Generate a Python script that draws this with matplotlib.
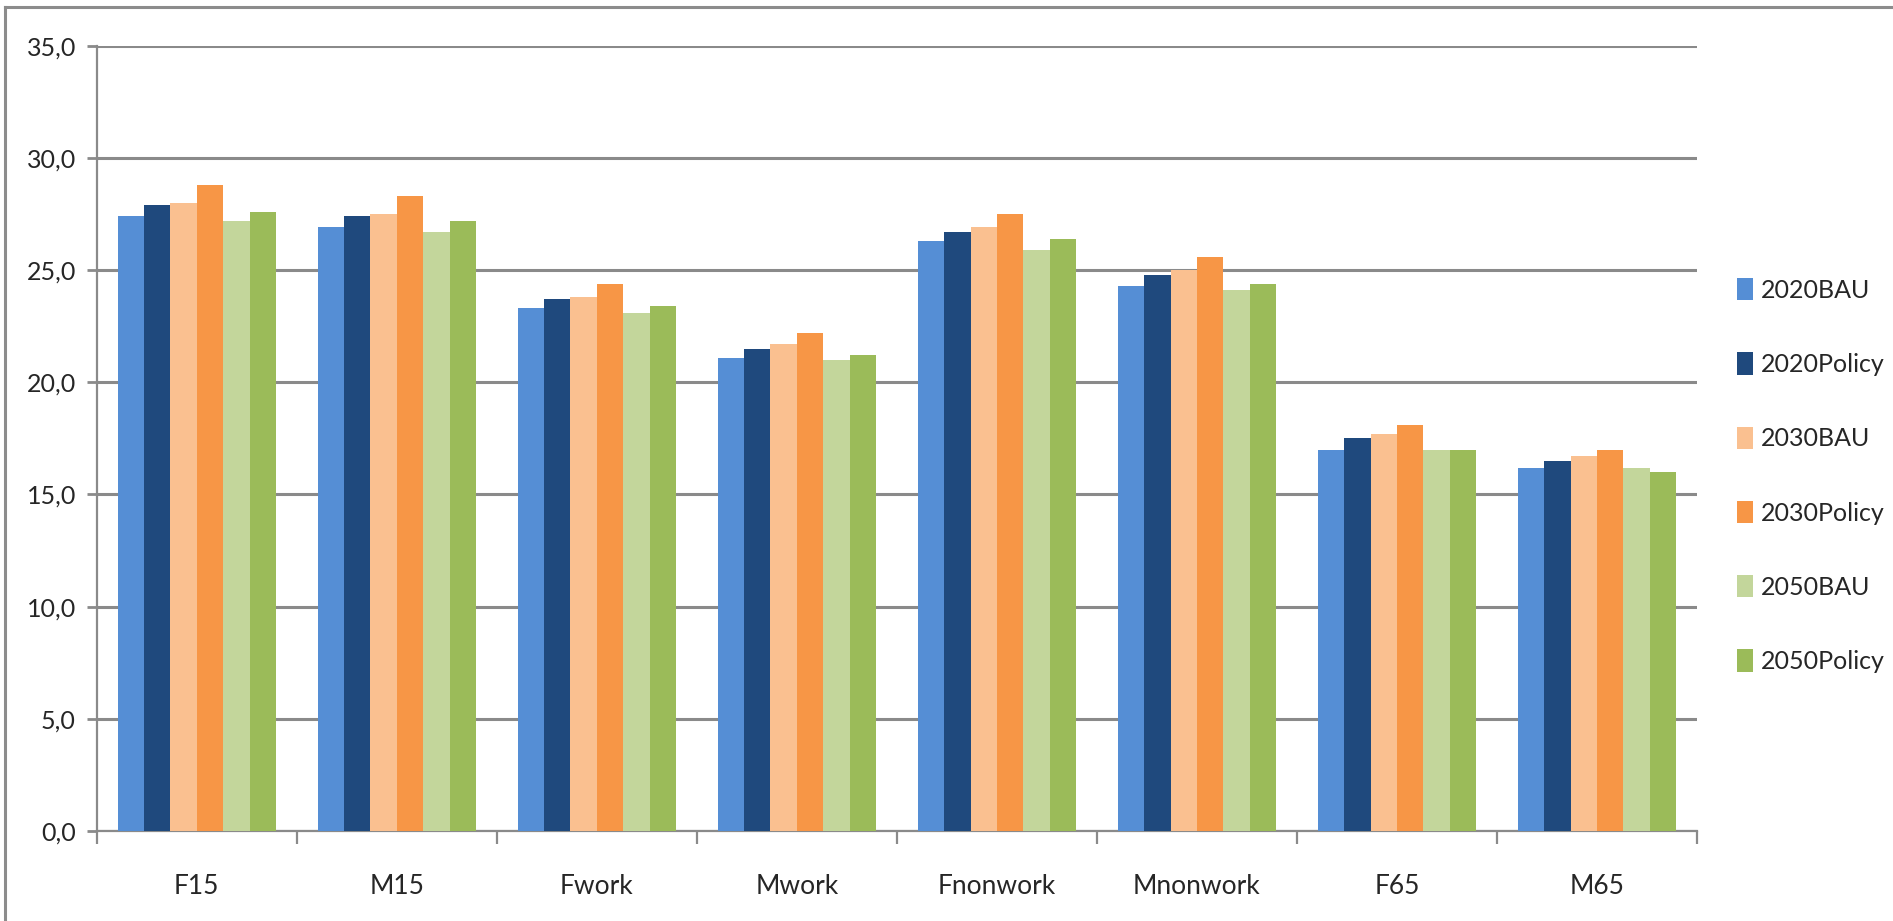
import numpy as np
import matplotlib
matplotlib.use("Agg")
import matplotlib.pyplot as plt
from matplotlib.lines import Line2D
from matplotlib.ticker import FuncFormatter, FixedLocator

# Group labels along the x axis
categories = ["F15", "M15", "Fwork", "Mwork", "Fnonwork", "Mnonwork", "F65", "M65"]

# Scenario series
series_names = ["2020BAU", "2020Policy", "2030BAU", "2030Policy", "2050BAU", "2050Policy"]
bau_2020 = [27.4, 26.9, 23.3, 21.1, 26.3, 24.3, 17.0, 16.2]
policy_2020 = [27.9, 27.4, 23.7, 21.5, 26.7, 24.8, 17.5, 16.5]
bau_2030 = [28.0, 27.5, 23.8, 21.7, 26.9, 25.0, 17.7, 16.7]
policy_2030 = [28.8, 28.3, 24.4, 22.2, 27.5, 25.6, 18.1, 17.0]
bau_2050 = [27.2, 26.7, 23.1, 21.0, 25.9, 24.1, 17.0, 16.2]
policy_2050 = [27.6, 27.2, 23.4, 21.2, 26.4, 24.4, 17.0, 16.0]

y_ticks = [0, 5, 10, 15, 20, 25, 30, 35]

colors = ["#558ED5", "#1F497D", "#FAC090", "#F79646", "#C3D69B", "#9BBB59"]
grid_color = "#8A8A8A"
text_color = "#262626"

plt.rcParams["font.family"] = ["Lato", "DejaVu Sans"]

fig = plt.figure(figsize=(18.93, 9.21), dpi=100)
fig.patch.set_facecolor("white")
ax = fig.add_axes([0.0511, 0.0977, 0.8454, 0.8527])

all_series = [bau_2020, policy_2020, bau_2030, policy_2030, bau_2050, policy_2050]
x = np.arange(len(categories))
bar_w = 0.132
for i, (vals, name, col) in enumerate(zip(all_series, series_names, colors)):
    ax.bar(x + (i - 2.5) * bar_w, vals, width=bar_w, color=col, label=name,
           edgecolor="none", zorder=3)

ax.set_xlim(-0.5, len(categories) - 0.5)
ax.set_ylim(0, 35)

# Horizontal gridlines
ax.set_yticks(y_ticks)
ax.yaxis.set_major_formatter(FuncFormatter(lambda v, p: f"{v:.1f}".replace(".", ",")))
ax.grid(axis="y", color=grid_color, linewidth=2.2, zorder=0)
ax.set_axisbelow(True)

# Category labels centred, tick marks between groups
ax.set_xticks(x)
ax.set_xticklabels(categories)
ax.xaxis.set_minor_locator(FixedLocator(np.arange(-0.5, len(categories), 1.0)))
ax.tick_params(axis="x", which="major", length=0, pad=31, labelsize=19, labelcolor=text_color)
ax.tick_params(axis="x", which="minor", length=9, width=1.6, color=grid_color, direction="out")
ax.tick_params(axis="y", which="major", length=7, width=2.0, color=grid_color, pad=8,
               labelsize=18, labelcolor=text_color)

for side in ["top", "right"]:
    ax.spines[side].set_visible(False)
for side in ["left", "bottom"]:
    ax.spines[side].set_color(grid_color)
    ax.spines[side].set_linewidth(1.6)

leg = ax.legend(loc="center left", bbox_to_anchor=(0.9176, 0.4837),
                bbox_transform=fig.transFigure, frameon=False, fontsize=18,
                handlelength=0.65, handleheight=1.0, handletextpad=0.3,
                labelspacing=2.02, borderpad=0, borderaxespad=0)
for t in leg.get_texts():
    t.set_color(text_color)

# Outer chart frame (top and left edges)
fig.add_artist(Line2D([0.0027, 1.0], [0.9925, 0.9925], transform=fig.transFigure,
                      color="#8C8C8C", linewidth=2.2))
fig.add_artist(Line2D([0.0027, 0.0027], [0.0, 0.9925], transform=fig.transFigure,
                      color="#8C8C8C", linewidth=2.2))

fig.savefig("out.png", dpi=100, facecolor="white")
